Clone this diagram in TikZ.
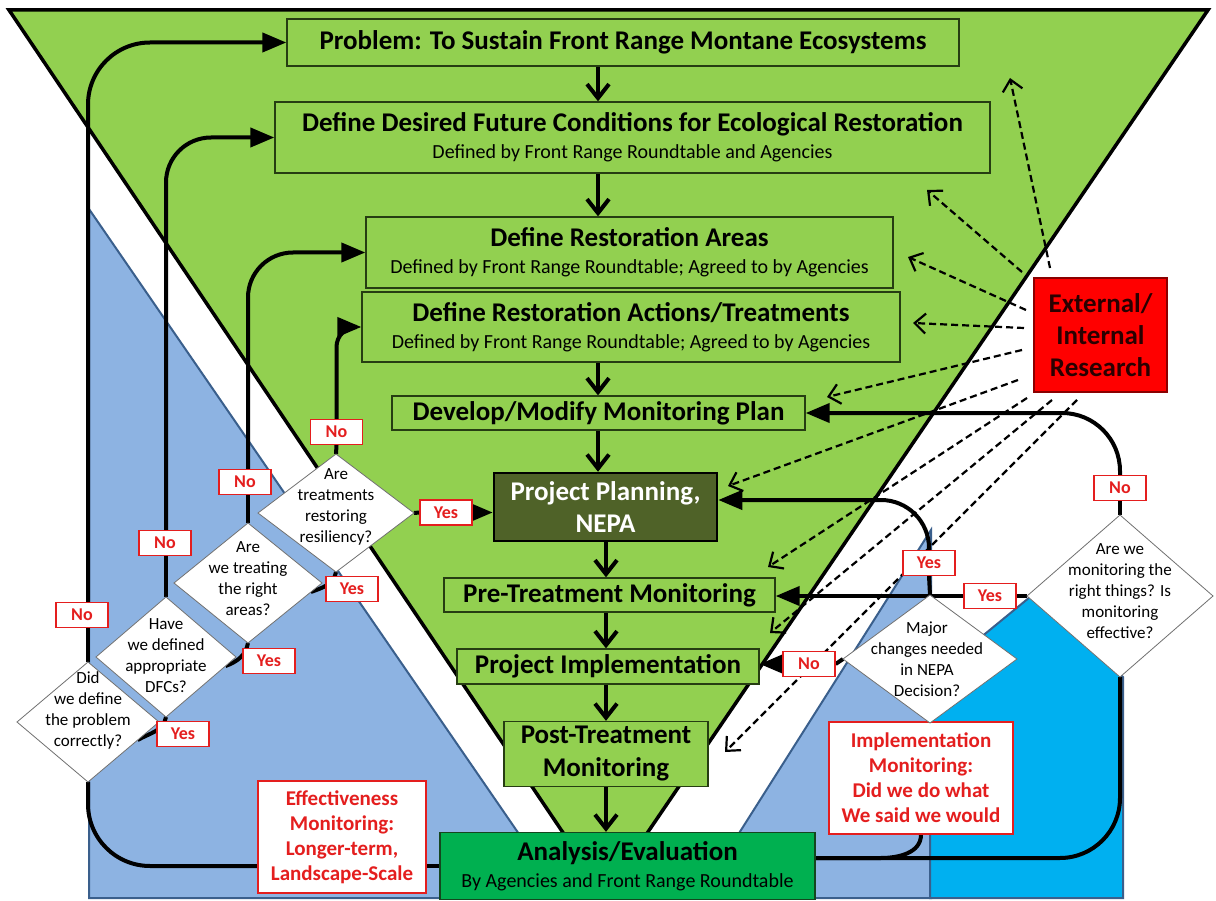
\documentclass[tikz,border=0pt]{standalone}
\usepackage{fontspec}
\setmainfont{Carlito}
\usetikzlibrary{arrows.meta,shapes.geometric,calc}
\pgfdeclarelayer{bg}
\pgfdeclarelayer{mid}
\pgfsetlayers{bg,mid,main}
\definecolor{grn}{HTML}{92D050}
\definecolor{nepacol}{HTML}{4F6228}
\definecolor{dgreen}{HTML}{00B050}
\definecolor{lblue}{HTML}{8DB3E2}
\definecolor{bblue}{HTML}{00B0F0}
\definecolor{bborder}{HTML}{3A5F8C}
\definecolor{lred}{HTML}{E41E1E}
\definecolor{boxedge}{HTML}{263D12}
\definecolor{resedge}{HTML}{8B0000}
\definecolor{restext}{HTML}{2A0000}
\definecolor{qedge}{HTML}{707070}
\newcommand{\boxtitle}{\fontsize{27}{30}\selectfont\bfseries}
\newcommand{\boxsub}{\fontsize{20}{24}\selectfont\mdseries}
\newcommand{\qfont}{\fontsize{17}{21}\selectfont}
\newcommand{\labfont}{\fontsize{18}{20}\selectfont\bfseries}
\newcommand{\monfont}{\fontsize{21}{25}\selectfont\bfseries}
\newcommand{\resfont}{\fontsize{27}{32}\selectfont\bfseries}
\tikzset{
  gbox/.style={draw=boxedge, line width=1.3pt, fill=grn, inner sep=0pt, align=center, font=\boxtitle},
  qd/.style={diamond, draw=qedge, line width=0.8pt, fill=white, inner sep=0pt, outer sep=0pt},
  qtext/.style={align=center, font=\qfont, inner sep=0pt},
  lab/.style={draw=lred, line width=1.3pt, fill=white, text=lred, font=\labfont, minimum width=52pt, minimum height=25pt, inner sep=0pt},
  mon/.style={draw=lred, line width=1.3pt, fill=white, text=lred, font=\monfont, align=center, inner sep=0pt},
  conn/.style={line width=4pt, black},
  fb/.style={-{Triangle[length=24pt,width=19pt]}},
  dn/.style={-{Straight Barb[length=14pt,width=22pt]}},
  dsh/.style={line width=2.2pt, dash pattern=on 7pt off 4pt, -{Straight Barb[length=11pt,width=20pt]}}
}
\begin{document}
\begin{tikzpicture}[x=1pt,y=-1pt]
\useasboundingbox (0,0) rectangle (1216,901);

% ---------- background regions ----------
\begin{pgfonlayer}{bg}
\fill[white] (0,0) rectangle (1216,901);
\filldraw[fill=lblue, draw=bborder, line width=2pt] (89,209) -- (89,898) -- (563,898) -- cycle;
\filldraw[fill=lblue, draw=bborder, line width=2pt] (931,530) -- (931,898) -- (698,898) -- cycle;
\filldraw[fill=bblue, draw=bborder, line width=2pt] (930,679) -- (1030,597) -- (1123,677) -- (1123,898) -- (930,898) -- cycle;
\filldraw[fill=grn, draw=black, line width=3.5pt, line join=miter] (9,10) -- (1208,10) -- (605,895) -- cycle;
\end{pgfonlayer}

% ---------- boxes ----------
\node[gbox, minimum width=672pt, minimum height=47pt] (prob) at (623,42.5) {Problem: To Sustain Front Range Montane Ecosystems};
\node[gbox, minimum width=715pt, minimum height=71pt] (dfc) at (632.5,137.5) {Define Desired Future Conditions for Ecological Restoration\\[-3pt]{\boxsub Defined by Front Range Roundtable and Agencies}};
\node[gbox, minimum width=527pt, minimum height=71pt] (areas) at (629.5,252.5) {Define Restoration Areas\\[-3pt]{\boxsub Defined by Front Range Roundtable; Agreed to by Agencies}};
\node[gbox, minimum width=538pt, minimum height=70pt] (actions) at (631,327) {Define Restoration Actions/Treatments\\[-3pt]{\boxsub Defined by Front Range Roundtable; Agreed to by Agencies}};
\node[gbox, minimum width=413pt, minimum height=34pt] (plan) at (598.5,413) {Develop/Modify Monitoring Plan};
\node[gbox, draw=black, line width=2.5pt, fill=nepacol, text=white, minimum width=223pt, minimum height=68pt] (nepa) at (605.5,507) {Project Planning,\\[2pt]NEPA};
\node[gbox, minimum width=331pt, minimum height=34pt] (pre) at (609.5,595) {Pre-Treatment Monitoring};
\node[gbox, minimum width=302pt, minimum height=35pt] (impl) at (608,666.5) {Project Implementation};
\node[gbox, minimum width=204pt, minimum height=65pt] (post) at (606,754) {Post-Treatment\\[3pt]Monitoring};
\node[gbox, draw={rgb,255:red,20;green,70;blue,30}, fill=dgreen, minimum width=375pt, minimum height=67pt] (anal) at (627.5,866) {Analysis/Evaluation\\[-3pt]{\boxsub By Agencies and Front Range Roundtable}};

\node[draw=resedge, line width=1.3pt, fill=red, text=restext, font=\resfont, align=center, inner sep=0pt, minimum width=133pt, minimum height=114pt] (research) at (1100.5,335) {External/\\Internal\\Research};

\node[mon, minimum width=168pt, minimum height=112pt] (eff) at (342,837) {Effectiveness\\Monitoring:\\Longer-term,\\Landscape-Scale};
\node[mon, minimum width=184pt, minimum height=112pt] (implmon) at (921,778) {Implementation\\Monitoring:\\Did we do what\\We said we would};

% ---------- diamonds ----------
\node[qd, minimum width=156pt, minimum height=118pt] (q1) at (336,513) {};
\node[qtext] (q1t) at (336,507) {Are\\treatments\\restoring\\resiliency?};
\node[qd, minimum width=148pt, minimum height=120pt] (q2) at (248,583) {};
\node[qtext] (q2t) at (248,579) {Are\\we treating\\the right\\areas?};
\node[qd, minimum width=140pt, minimum height=120pt] (q3) at (166,657) {};
\node[qtext] (q3t) at (166,656) {Have\\we defined\\appropriate\\DFCs?};
\node[qd, minimum width=142pt, minimum height=120pt] (q4) at (88,722) {};
\node[qtext] (q4t) at (88,710) {Did\\we define\\the problem\\correctly?};
\node[qd, minimum width=174pt, minimum height=128pt] (q5) at (930,659) {};
\node[qtext] (q5t) at (927,659) {Major\\changes needed\\in NEPA\\Decision?};
\node[qd, minimum width=186pt, minimum height=162pt] (q6) at (1120,596) {};
\node[qtext] (q6t) at (1120,591) {Are we\\monitoring the\\right things? Is\\monitoring\\effective?};

% ---------- labels ----------
\node[lab] (n1) at (336.5,432) {No};
\node[lab] (n2) at (245,482) {No};
\node[lab] (n3) at (165,543) {No};
\node[lab] (n4) at (82,615) {No};
\node[lab] (y1) at (446,512.5) {Yes};
\node[lab] (y2) at (352,589) {Yes};
\node[lab] (y3) at (269,661) {Yes};
\node[lab] (y4) at (183,734) {Yes};
\node[lab] (n6) at (1120,488) {No};
\node[lab] (y5) at (929,563) {Yes};
\node[lab] (y6) at (990,596) {Yes};
\node[lab] (n5) at (809,664) {No};

% ---------- coordinates ----------
\coordinate (sp) at (598,0);
\coordinate (sp2) at (606,0);
\coordinate (r1) at (1050,268); \coordinate (t1) at (1010,78);
\coordinate (r2) at (1022,272); \coordinate (t2) at (927,190);
\coordinate (r3) at (1026,310); \coordinate (t3) at (908,257);
\coordinate (r4) at (1024,328); \coordinate (t4) at (913,323);
\coordinate (r5) at (1022,350); \coordinate (t5) at (827,397);
\coordinate (r6) at (1018,380); \coordinate (t6) at (728,486);
\coordinate (r7) at (1027,398); \coordinate (t7) at (768,567);
\coordinate (r8) at (1052,400); \coordinate (t8) at (770,633);
\coordinate (r9) at (1077,400); \coordinate (t9) at (725,752);

\begin{pgfonlayer}{mid}
% main spine
\draw[conn,dn] (sp |- prob.south) -- (sp |- dfc.north);
\draw[conn,dn] (sp |- dfc.south) -- (sp |- areas.north);
\draw[conn,dn] (sp |- actions.south) -- (sp |- plan.north);
\draw[conn,dn] (sp |- plan.south) -- (sp |- nepa.north);
\draw[conn,dn] (sp2 |- nepa.south) -- (sp2 |- pre.north);
\draw[conn,dn] (sp2 |- pre.south) -- (sp2 |- impl.north);
\draw[conn,dn] (sp2 |- impl.south) -- (sp2 |- post.north);
\draw[conn,dn] (sp2 |- post.south) -- (sp2 |- anal.north);

% left feedback loops
\draw[conn] (q4.north) -- (n4.south -| q4.north);
\draw[conn,fb,rounded corners=62pt] (n4.north -| q4.north) |- (prob.west);
\draw[conn] (q3.north) -- (n3.south -| q3.north);
\draw[conn,fb,rounded corners=45pt] (n3.north -| q3.north) |- (dfc.west);
\draw[conn] (q2.north) -- (n2.south -| q2.north);
\draw[conn,fb,rounded corners=45pt] (n2.north -| q2.north) |- (areas.west);
\draw[conn] (q1.north) -- (n1.south);
\draw[conn,fb,rounded corners=20pt] (n1.north) |- (actions.west);

% yes links
\draw[conn] (q1.east) -- (y1.west);
\draw[conn,fb] (y1.east) -- (y1.east -| nepa.west);
\draw[conn] ($(q4.east)!0.3!(q4.south)$) to[out=30,in=-100] (q3.south);
\draw[conn] ($(q3.east)!0.15!(q3.south)$) to[out=20,in=-100] (q2.south);
\draw[conn] ($(q2.east)!0.15!(q2.south)$) to[out=20,in=-100] (q1.south);

% right side
\draw[conn] (q6.north) -- (n6.south);
\draw[conn,fb,rounded corners=58pt] (n6.north) |- (plan.east);
\draw[conn] (q5.north) -- (y5.south);
\draw[conn,fb,rounded corners=48pt] (y5.north) |- ([yshift=7pt]nepa.east);
\draw[conn] (q6.west) -- (y6.east);
\draw[conn,fb] (y6.west) -- (y6.west -| pre.east);
\draw[conn] (q5.west) -- (n5.east);
\draw[conn,fb] (n5.west) -- (n5.west -| impl.east);

% bottom returns
\draw[conn] (anal.west) -- (anal.west -| eff.east);
\draw[conn,rounded corners=62pt] (anal.west -| eff.west) -| (q4.south);
\draw[conn,rounded corners=60pt] ([yshift=8pt]anal.east) -| (q6.south);
\draw[conn] ([yshift=8pt]anal.east) -- ++(65,0) to[out=0,in=-90] (implmon.south);

% research influences
\foreach \i in {1,...,9} { \draw[dsh] (r\i) -- (t\i); }
\end{pgfonlayer}
\end{tikzpicture}
\end{document}
